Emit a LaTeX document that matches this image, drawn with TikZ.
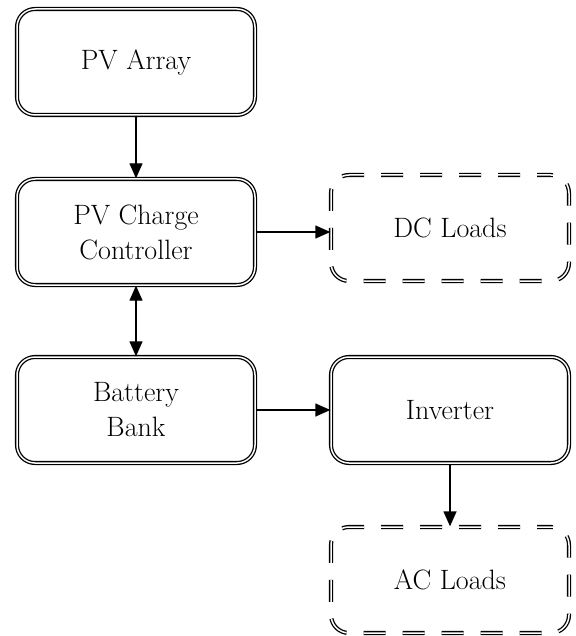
\documentclass[tikz,border=0pt]{standalone}
\usetikzlibrary{arrows.meta}
\begin{document}
\begin{tikzpicture}[x=1pt,y=-1pt,
  blk/.style={draw=black, double=white, double distance=1.5pt, line width=1.3pt,
    rounded corners=18pt, minimum width=238pt, minimum height=106pt,
    align=center, font=\fontsize{28}{35}\selectfont, inner sep=0pt},
  dblk/.style={blk, dash pattern=on 22pt off 17pt, dash phase=8pt},
  arr/.style={-{Triangle[length=15pt,width=13pt]}, line width=1.3pt},
  darr/.style={{Triangle[length=15pt,width=13pt]}-{Triangle[length=15pt,width=13pt]}, line width=1.3pt}]
\useasboundingbox (0,0) rectangle (575,636);
\node[blk] (pv) at (136,62) {PV Array};
\node[blk] (cc) at (136,232) {PV Charge\\Controller};
\node[blk] (bat) at (136,410) {Battery\\Bank};
\node[dblk] (dc) at (450,228) {DC Loads};
\node[blk] (inv) at (450,410) {Inverter};
\node[dblk] (ac) at (450,580) {AC Loads};
\draw[arr] (pv.south) -- (cc.north);
\draw[arr] (cc.east) -- (cc.east -| dc.west);
\draw[darr] (cc.south) -- (bat.north);
\draw[arr] (bat.east) -- (inv.west);
\draw[arr] (inv.south) -- (ac.north);
\end{tikzpicture}
\end{document}
